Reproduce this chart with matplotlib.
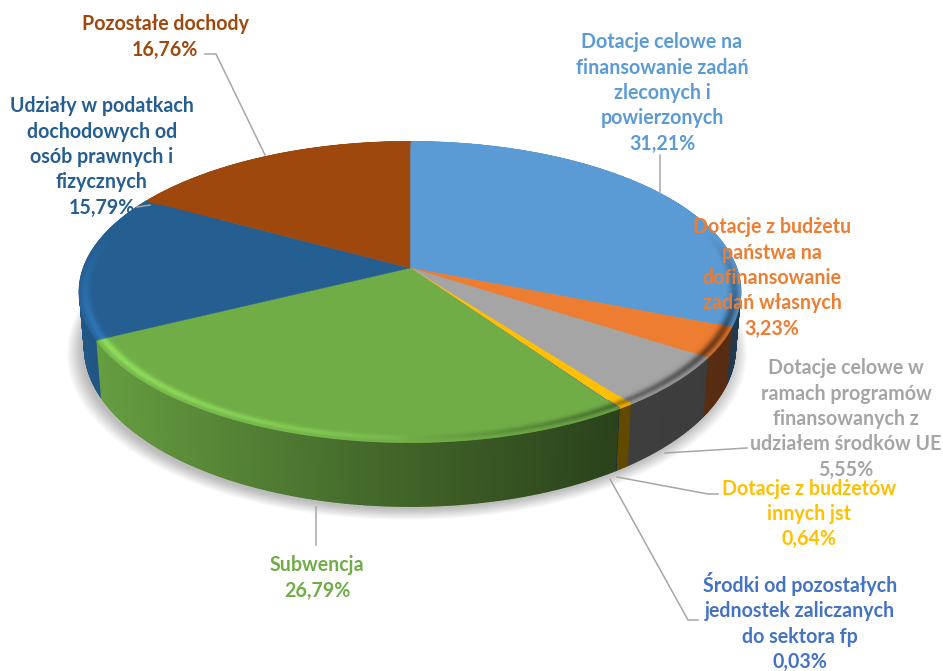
import numpy as np
import matplotlib
matplotlib.use("Agg")
import matplotlib.pyplot as plt
from matplotlib.collections import PolyCollection, LineCollection
from matplotlib.colors import to_rgb

labels = [
    "Dotacje celowe na\nfinansowanie zadań\nzleconych i\npowierzonych\n31,21%",
    "Dotacje z budżetu\npaństwa na\ndofinansowanie\nzadań własnych\n3,23%",
    "Dotacje celowe w\nramach programów\nfinansowanych z\nudziałem środków UE\n5,55%",
    "Dotacje z budżetów\ninnych jst\n0,64%",
    "Środki od pozostałych\njednostek zaliczanych\ndo sektora fp\n0,03%",
    "Subwencja\n26,79%",
    "Udziały w podatkach\ndochodowych od\nosób prawnych i\nfizycznych\n15,79%",
    "Pozostałe dochody\n16,76%",
]
values = [31.21, 3.23, 5.55, 0.64, 0.03, 26.79, 15.79, 16.76]
colors = ["#5B9BD5", "#ED7D31", "#A5A5A5", "#FFC000", "#4472C4", "#70AD47", "#255E91", "#9E480E"]
label_x = [662, 772, 846, 809, 800, 317, 102, 165]
label_y = [93, 278, 419, 514, 622, 578, 157, 37]

# perspektywa tortu
CX, CY = 410, 268
RX, RY, K = 326, 146, 0.16
DEPTH = 54


def project(theta, r=1.0, drop=0.0):
    # theta w stopniach, zgodnie z zegarem od godziny 12
    t = np.radians(theta)
    c, s = r * np.sin(t), r * np.cos(t)
    w = 1 + K * s
    x = RX * c / w
    y = RY * s / w
    if drop > 0:
        x = x * 0.985
    return np.column_stack([CX + x, CY - y + drop * DEPTH / w])


def shade(color, f):
    return tuple(min(1, v * f) for v in to_rgb(color))


fig = plt.figure(figsize=(9.43, 6.71), dpi=100)
ax = fig.add_axes([0, 0, 1, 1])
ax.set_xlim(0, 943)
ax.set_ylim(671, 0)
ax.axis("off")

edges = np.concatenate([[0], np.cumsum(values)]) / sum(values) * 360

# cien pod tortem
ring = project(np.linspace(0, 360, 361), drop=1.0)
for i in range(14):
    grow = 1 + 0.0035 * i
    px = CX - 3 + (ring[:, 0] - CX) * grow
    py = CY + 3 + (ring[:, 1] - CY) * grow
    ax.fill(px, py, color="black", alpha=0.02, lw=0, zorder=1)

# bok tortu
quads, quad_colors, order = [], [], []
for i, col in enumerate(colors):
    th = np.arange(edges[i], edges[i + 1] + 0.5, 0.5)
    th[-1] = edges[i + 1]
    if len(th) < 2:
        th = np.array([edges[i], edges[i + 1]])
    top, bottom = project(th), project(th, drop=1.0)
    for j in range(len(th) - 1):
        quads.append([top[j], top[j + 1], bottom[j + 1], bottom[j]])
        f = np.interp(top[j][0], [80, 360, 620, 740], [0.93, 0.62, 0.38, 0.36])
        quad_colors.append(shade(col, f))
        order.append(top[j][1])
idx = np.argsort(order)
ax.add_collection(PolyCollection([quads[i] for i in idx], facecolors=[quad_colors[i] for i in idx],
                                 edgecolors=[quad_colors[i] for i in idx], linewidths=1.2, zorder=2))

# wierzch tortu
for i, col in enumerate(colors):
    th = np.linspace(edges[i], edges[i + 1], max(3, int(edges[i + 1] - edges[i]) * 2))
    pts = np.vstack([[CX, CY], project(th)])
    ax.fill(pts[:, 0], pts[:, 1], color=col, lw=0.3, zorder=3)

# faza na krawedzi
radii = np.linspace(0.955, 1.0, 14)
for r in radii:
    strength = np.exp(-((r - 0.985) / 0.014) ** 2)
    segs, seg_colors = [], []
    for i, col in enumerate(colors):
        th = np.arange(edges[i], edges[i + 1] + 0.5, 0.5)
        th[-1] = edges[i + 1]
        if len(th) < 2:
            continue
        pts = project(th, r)
        for j in range(len(th) - 1):
            t = np.radians(th[j])
            w = np.clip(1.3 * (0.25 - np.cos(t)), 0, 1) * strength
            light = -np.sin(t)
            base = np.array(to_rgb(col))
            if light > 0:
                c = np.clip(base * (1 + 0.3 * np.sqrt(light) * w), 0, 1)
            else:
                c = base * (1 + 0.6 * light * w)
            segs.append(pts[j:j + 2])
            seg_colors.append(tuple(c))
    ax.add_collection(LineCollection(segs, colors=seg_colors, linewidths=1.6, capstyle="round", zorder=4))

# linie odniesienia
leaders = [
    [(660, 155), (660, 193)],
    [(747, 448), (665, 453)],
    [(718, 494), (708, 494), (617, 477)],
    [(698, 620), (688, 620), (610, 479)],
    [(316, 545), (316, 507)],
    [(137, 207), (150, 205)],
    [(205, 54), (216, 54), (265, 155)],
]
for line in leaders:
    xs, ys = zip(*line)
    ax.plot(xs, ys, color="#A6A6A6", lw=1.1, zorder=5)

for lab, x, y, col in zip(labels, label_x, label_y, colors):
    ax.text(x, y, lab, color=col, ha="center", va="center", family="Lato", weight="bold",
            fontsize=14.1, linespacing=1.34, zorder=6)

fig.savefig("out.png", dpi=100)
